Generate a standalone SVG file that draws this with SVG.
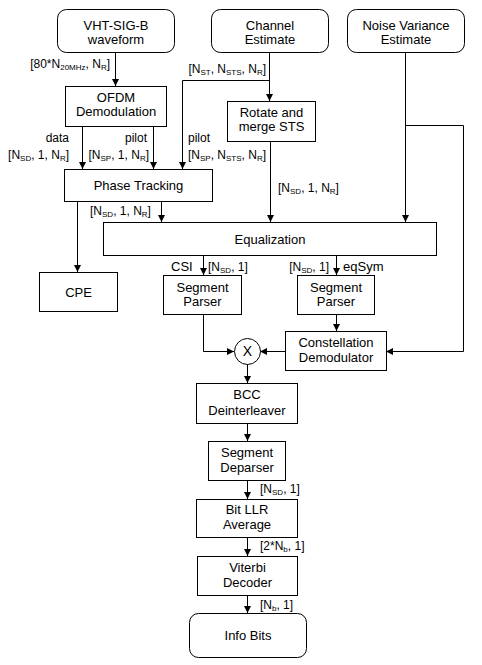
<svg xmlns="http://www.w3.org/2000/svg" width="482" height="665" viewBox="0 0 482 665">
<defs>
<marker id="ah" markerWidth="8" markerHeight="8" refX="7" refY="3.5" orient="auto" markerUnits="userSpaceOnUse">
<path d="M0,0 L7,3.5 L0,7 z" fill="#000"/>
</marker>
<style>
.box{fill:#fff;stroke:#000;stroke-width:1}
.t{font-family:"Liberation Sans",Arial,sans-serif;font-size:13px;fill:#000;text-anchor:middle}
.l{font-family:"Liberation Sans",Arial,sans-serif;font-size:12px;fill:#000}
.e{text-anchor:end}
.s{font-size:8px}
.c{fill:none;stroke:#000;stroke-width:1}
.a{marker-end:url(#ah)}
</style>
</defs>
<rect width="482" height="665" fill="#fff"/>
<g id="connectors">
<path class="c a" d="M115.5,52 V86"/>
<path class="c a" d="M269.5,52 V101"/>
<path class="c a" d="M269.5,80.5 H182.5 V169"/>
<path class="c a" d="M82.5,126 V169"/>
<path class="c a" d="M153.5,126 V169"/>
<path class="c a" d="M77.5,201 V272"/>
<path class="c a" d="M161.5,201 V222"/>
<path class="c a" d="M270.5,141 V222"/>
<path class="c a" d="M405.5,53 V222"/>
<path class="c a" d="M405.5,125.5 H463.5 V351.5 H386"/>
<path class="c a" d="M203.5,255 V275"/>
<path class="c a" d="M336.5,255 V275"/>
<path class="c a" d="M336.5,314 V331"/>
<path class="c a" d="M203.5,314 V351.5 H234"/>
<path class="c a" d="M285,351.5 H260"/>
<path class="c a" d="M247.5,364 V383"/>
<path class="c a" d="M247.5,423 V441"/>
<path class="c a" d="M247.5,480 V499"/>
<path class="c a" d="M247.5,537 V556"/>
<path class="c a" d="M247.5,595 V613"/>
</g>
<g id="labels">
<text class="l e" x="110" y="68">[80*N<tspan class="s" dy="2">20MHz</tspan><tspan dy="-2">, N</tspan><tspan class="s" dy="2">R</tspan><tspan dy="-2">]</tspan></text>
<text class="l e" x="266" y="73">[N<tspan class="s" dy="2">ST</tspan><tspan dy="-2">, N</tspan><tspan class="s" dy="2">STS</tspan><tspan dy="-2">, N</tspan><tspan class="s" dy="2">R</tspan><tspan dy="-2">]</tspan></text>
<text class="l e" x="69" y="142">data</text>
<text class="l e" x="69" y="159">[N<tspan class="s" dy="2">SD</tspan><tspan dy="-2">, 1, N</tspan><tspan class="s" dy="2">R</tspan><tspan dy="-2">]</tspan></text>
<text class="l e" x="147" y="142">pilot</text>
<text class="l e" x="149" y="159">[N<tspan class="s" dy="2">SP</tspan><tspan dy="-2">, 1, N</tspan><tspan class="s" dy="2">R</tspan><tspan dy="-2">]</tspan></text>
<text class="l" x="188" y="142">pilot</text>
<text class="l" x="188" y="159">[N<tspan class="s" dy="2">SP</tspan><tspan dy="-2">, N</tspan><tspan class="s" dy="2">STS</tspan><tspan dy="-2">, N</tspan><tspan class="s" dy="2">R</tspan><tspan dy="-2">]</tspan></text>
<text class="l" x="278" y="192">[N<tspan class="s" dy="2">SD</tspan><tspan dy="-2">, 1, N</tspan><tspan class="s" dy="2">R</tspan><tspan dy="-2">]</tspan></text>
<text class="l" x="90" y="215">[N<tspan class="s" dy="2">SD</tspan><tspan dy="-2">, 1, N</tspan><tspan class="s" dy="2">R</tspan><tspan dy="-2">]</tspan></text>
<text class="l" x="171" y="271" style="font-size:13px">CSI</text>
<text class="l" x="208" y="271">[N<tspan class="s" dy="2">SD</tspan><tspan dy="-2">, 1]</tspan></text>
<text class="l e" x="329" y="271">[N<tspan class="s" dy="2">SD</tspan><tspan dy="-2">, 1]</tspan></text>
<text class="l" x="343" y="271" style="font-size:13px">eqSym</text>
<text class="l" x="260" y="493">[N<tspan class="s" dy="2">SD</tspan><tspan dy="-2">, 1]</tspan></text>
<text class="l" x="260" y="550">[2*N<tspan class="s" dy="2">b</tspan><tspan dy="-2">, 1]</tspan></text>
<text class="l" x="260" y="609">[N<tspan class="s" dy="2">b</tspan><tspan dy="-2">, 1]</tspan></text>
</g>
<g id="vhtsigb"><rect class="box" x="57.5" y="9.5" width="117" height="43" rx="9"/><text class="t" x="116" y="30">VHT-SIG-B</text><text class="t" x="116" y="44">waveform</text></g>
<g id="chanest"><rect class="box" x="211.5" y="9.5" width="117" height="43" rx="9"/><text class="t" x="270" y="30">Channel</text><text class="t" x="270" y="44">Estimate</text></g>
<g id="noisevar"><rect class="box" x="347.5" y="9.5" width="117" height="43" rx="9"/><text class="t" x="406" y="30">Noise Variance</text><text class="t" x="406" y="44">Estimate</text></g>
<g id="ofdm"><rect class="box" x="65.5" y="86.5" width="101" height="40"/><text class="t" x="116" y="102">OFDM</text><text class="t" x="116" y="116">Demodulation</text></g>
<g id="rotate"><rect class="box" x="227.5" y="101.5" width="88" height="40"/><text class="t" x="271.5" y="117">Rotate and</text><text class="t" x="271.5" y="131">merge STS</text></g>
<g id="phasetrack"><rect class="box" x="64.5" y="169.5" width="148" height="32"/><text class="t" x="138.5" y="190">Phase Tracking</text></g>
<g id="equal"><rect class="box" x="103.5" y="222.5" width="333" height="33"/><text class="t" x="270" y="244">Equalization</text></g>
<g id="cpe"><rect class="box" x="39.5" y="272.5" width="78" height="39"/><text class="t" x="78.5" y="297">CPE</text></g>
<g id="segparse1"><rect class="box" x="163.5" y="275.5" width="78" height="39"/><text class="t" x="202.5" y="292">Segment</text><text class="t" x="202.5" y="306">Parser</text></g>
<g id="segparse2"><rect class="box" x="297.5" y="275.5" width="77" height="39"/><text class="t" x="336" y="292">Segment</text><text class="t" x="336" y="306">Parser</text></g>
<g id="constdemod"><rect class="box" x="285.5" y="331.5" width="101" height="39"/><text class="t" x="336" y="347">Constellation</text><text class="t" x="336" y="362">Demodulator</text></g>
<g id="mult"><circle class="box" cx="247.5" cy="351.5" r="13"/><text class="t" x="247.5" y="356" style="font-size:14px">X</text></g>
<g id="bcc"><rect class="box" x="196.5" y="383.5" width="101" height="40"/><text class="t" x="247" y="399">BCC</text><text class="t" x="247" y="415">Deinterleaver</text></g>
<g id="segdeparse"><rect class="box" x="208.5" y="441.5" width="77" height="39"/><text class="t" x="247" y="457">Segment</text><text class="t" x="247" y="472">Deparser</text></g>
<g id="bitllr"><rect class="box" x="196.5" y="499.5" width="101" height="38"/><text class="t" x="247" y="514">Bit LLR</text><text class="t" x="247" y="529">Average</text></g>
<g id="viterbi"><rect class="box" x="197.5" y="556.5" width="100" height="39"/><text class="t" x="247.5" y="572">Viterbi</text><text class="t" x="247.5" y="587">Decoder</text></g>
<g id="infobits"><rect class="box" x="189.5" y="613.5" width="117" height="44" rx="9"/><text class="t" x="248" y="640">Info Bits</text></g>
</svg>
